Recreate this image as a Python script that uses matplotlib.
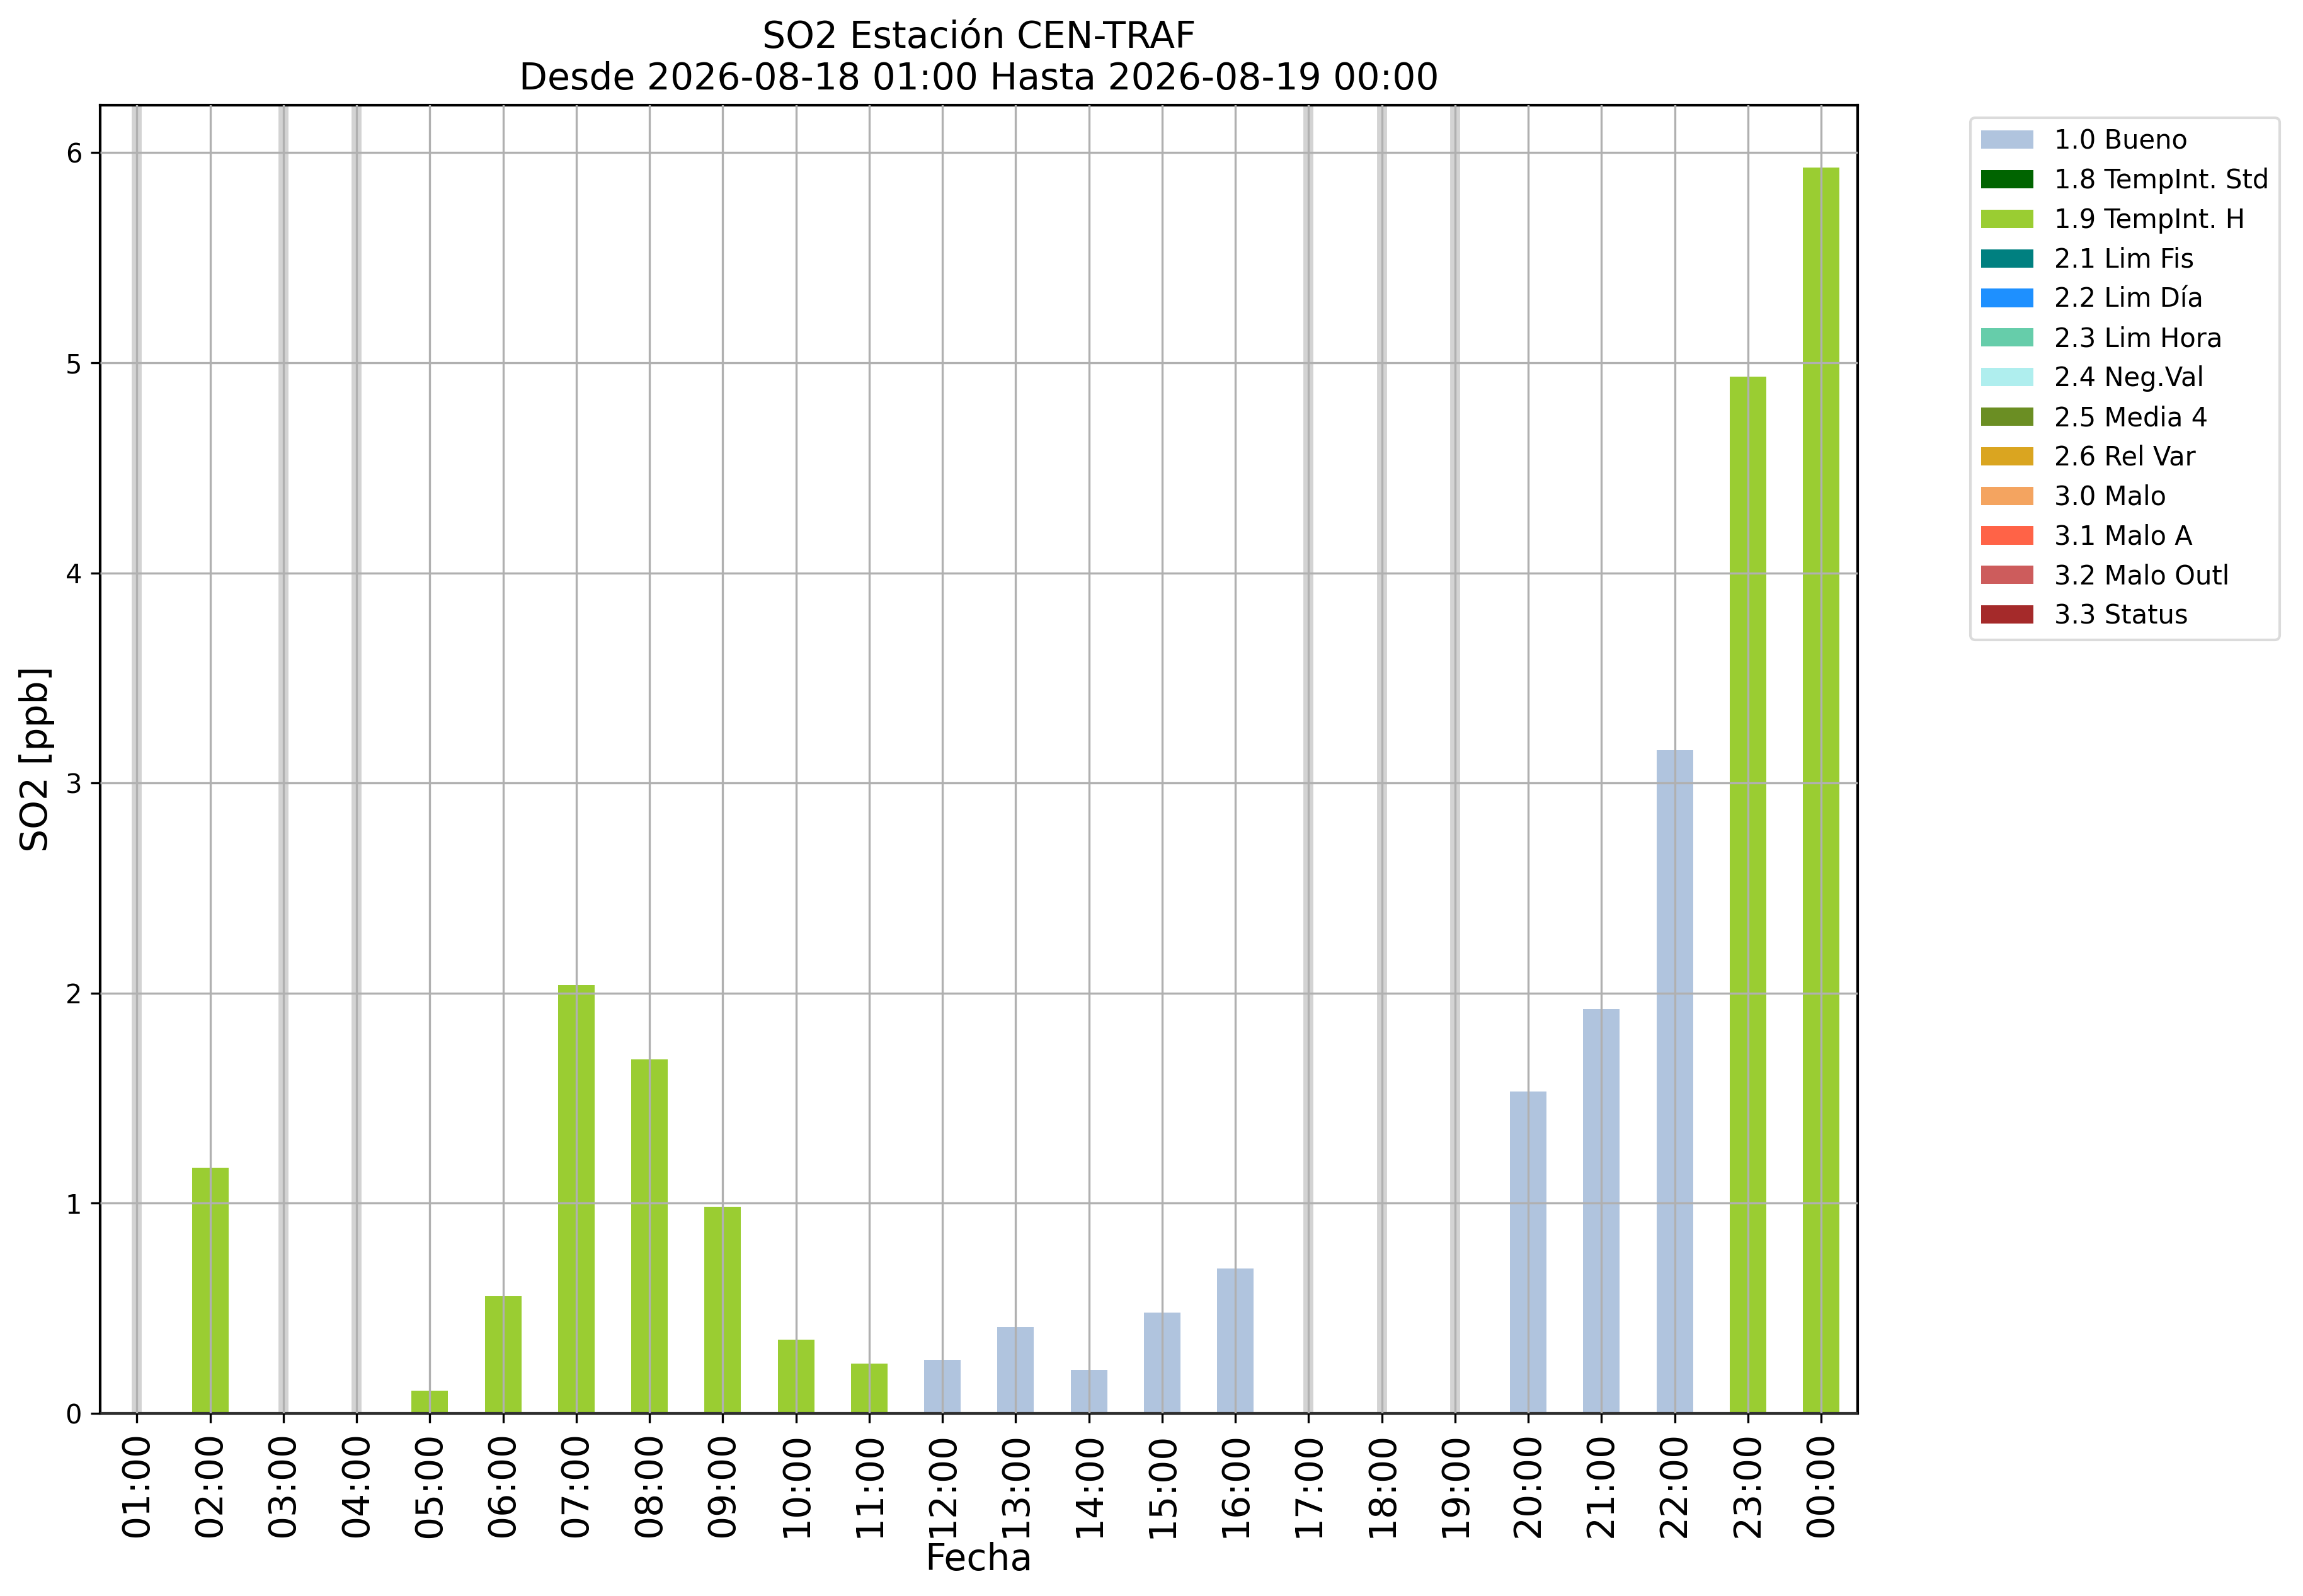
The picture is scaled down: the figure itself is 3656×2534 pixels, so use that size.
import numpy as np
import matplotlib
matplotlib.use("Agg")
import matplotlib.pyplot as plt
from matplotlib.patches import Patch

# ---- data ----
hours = ["01:00", "02:00", "03:00", "04:00", "05:00", "06:00", "07:00", "08:00",
         "09:00", "10:00", "11:00", "12:00", "13:00", "14:00", "15:00", "16:00",
         "17:00", "18:00", "19:00", "20:00", "21:00", "22:00", "23:00", "00:00"]
so2 = [np.nan, 1.17, np.nan, np.nan, 0.108, 0.559, 2.037, 1.686,
       0.982, 0.350, 0.237, 0.255, 0.411, 0.207, 0.480, 0.690,
       np.nan, np.nan, np.nan, 1.533, 1.925, 3.156, 4.935, 5.93]
flags = [None, "1.9", None, None, "1.9", "1.9", "1.9", "1.9",
         "1.9", "1.9", "1.9", "1.0", "1.0", "1.0", "1.0", "1.0",
         None, None, None, "1.0", "1.0", "1.0", "1.9", "1.9"]
flag_codes = ["1.0", "1.8", "1.9", "2.1", "2.2", "2.3", "2.4", "2.5",
              "2.6", "3.0", "3.1", "3.2", "3.3"]
flag_names = ["1.0 Bueno", "1.8 TempInt. Std", "1.9 TempInt. H", "2.1 Lim Fis",
              "2.2 Lim Día", "2.3 Lim Hora", "2.4 Neg.Val", "2.5 Media 4",
              "2.6 Rel Var", "3.0 Malo", "3.1 Malo A", "3.2 Malo Outl", "3.3 Status"]
flag_colors = ["lightsteelblue", "darkgreen", "yellowgreen", "teal", "dodgerblue",
               "mediumaquamarine", "paleturquoise", "olivedrab", "goldenrod",
               "sandybrown", "tomato", "indianred", "brown"]

title = "SO2 Estación CEN-TRAF\nDesde 2026-08-18 01:00 Hasta 2026-08-19 00:00"

# ---- figure ----
DPI = 300
fig = plt.figure(figsize=(3656 / DPI, 2534 / DPI), dpi=DPI)
ax = fig.add_axes([159.3 / 3656, 290 / 2534, (2949.3 - 159.3) / 3656, (2244 - 166.7) / 2534])

x = np.arange(len(hours))
cmap = dict(zip(flag_codes, flag_colors))
vals = np.array(so2, dtype=float)
bar_colors = [cmap[f] if f is not None else "white" for f in flags]
ax.bar(x, np.nan_to_num(vals), width=0.5, color=bar_colors, zorder=1)

# missing-data markers
for xi, v in zip(x, vals):
    if np.isnan(v):
        ax.axvline(xi, color="lightgray", lw=3.8, zorder=0.5)

ax.set_xlim(-0.5, len(hours) - 0.5)
ax.set_ylim(0, np.nanmax(vals) * 1.05)
ax.set_xticks(x)
ax.set_xticklabels(hours, rotation=90, fontsize=14)
ax.tick_params(axis="y", labelsize=10)
ax.set_axisbelow(False)
ax.grid(True, color="#b0b0b0", lw=0.8, zorder=2)
for sp in ax.spines.values():
    sp.set_linewidth(1.0)

ax.set_xlabel("Fecha", fontsize=14, labelpad=1.5)
ax.set_ylabel("SO2 [ppb]", fontsize=14)
ax.set_title(title, fontsize=14)

handles = [Patch(facecolor=c, edgecolor="none") for c in flag_colors]
fig.legend(handles, flag_names, loc="upper left",
           bbox_to_anchor=(3128 / 3656, 1 - 186.5 / 2534),
           bbox_transform=fig.transFigure, borderaxespad=0, fontsize=10,
           labelspacing=0.5, edgecolor="lightgray")

fig.savefig("out.png", dpi=DPI)
